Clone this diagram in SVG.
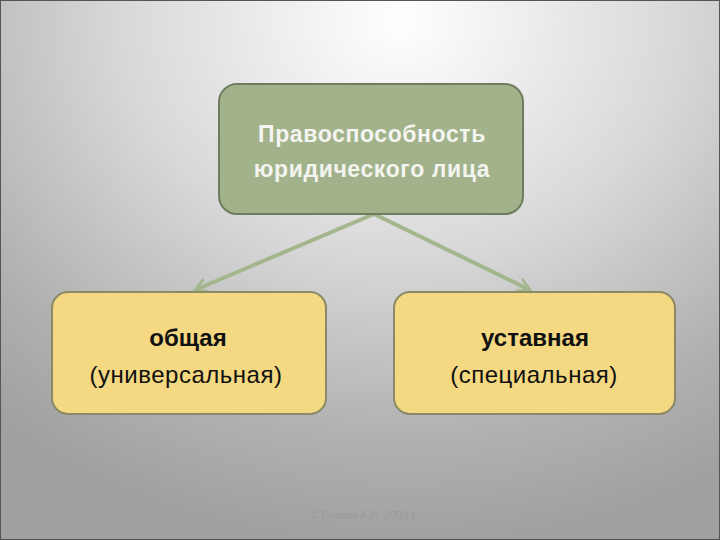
<svg xmlns="http://www.w3.org/2000/svg" width="720" height="540" viewBox="0 0 720 540">
<defs>
<radialGradient id="bg" cx="400" cy="20" r="620" gradientUnits="userSpaceOnUse" gradientTransform="translate(400 20) scale(1 0.85) translate(-400 -20)">
<stop offset="0" stop-color="#ffffff"/>
<stop offset="0.45" stop-color="#d8d8d8"/>
<stop offset="0.8" stop-color="#b0b0b0"/>
<stop offset="1" stop-color="#a0a0a0"/>
</radialGradient>
<marker id="ah" viewBox="0 0 12 12" refX="10" refY="6" markerWidth="4" markerHeight="4" orient="auto" markerUnits="strokeWidth">
<path d="M1,1 L10,6 L1,11" fill="none" stroke="#a3b68d" stroke-width="2"/>
</marker>
</defs>
<style>
.green{fill:#a2b38c;stroke:#6f7d5d;stroke-width:2}
.yellow{fill:#f4d882;stroke:#8b8a66;stroke-width:2}
.tw{font-family:"Liberation Sans",Arial,sans-serif;font-size:23px;font-weight:bold;fill:#f4f4f0;text-anchor:middle;letter-spacing:0.6px}
.tb{font-family:"Liberation Sans",Arial,sans-serif;font-size:24px;font-weight:bold;fill:#111;text-anchor:middle}
.tn{font-family:"Liberation Sans",Arial,sans-serif;font-size:24px;fill:#111;text-anchor:middle;letter-spacing:0.5px}
.conn{stroke:#a3b68d;stroke-width:4;fill:none;marker-end:url(#ah)}
</style>
<rect x="0" y="0" width="720" height="540" fill="url(#bg)"/>
<rect x="0.5" y="0.5" width="719" height="539" fill="none" stroke="#555" stroke-width="1"/>
<g id="connectors">
<line class="conn" x1="374" y1="214" x2="195" y2="290"/>
<line class="conn" x1="374" y1="214" x2="530" y2="290"/>
</g>
<g id="root">
<rect class="green" x="219" y="84" width="304" height="130" rx="18"/>
<text class="tw" x="372" y="142">Правоспособность</text>
<text class="tw" x="372" y="177">юридического лица</text>
</g>
<g id="general">
<rect class="yellow" x="52" y="292" width="274" height="122" rx="16"/>
<text class="tb" x="188" y="346">общая</text>
<text class="tn" x="186" y="383">(универсальная)</text>
</g>
<g id="special">
<rect class="yellow" x="394" y="292" width="281" height="122" rx="16"/>
<text class="tb" x="535" y="346">уставная</text>
<text class="tn" x="534" y="383">(специальная)</text>
</g>
<text x="364" y="519" font-family="Liberation Sans,Arial,sans-serif" font-size="11" fill="#9a9a9a" text-anchor="middle">© Рыжин А.И. 2009 г.</text>
</svg>
